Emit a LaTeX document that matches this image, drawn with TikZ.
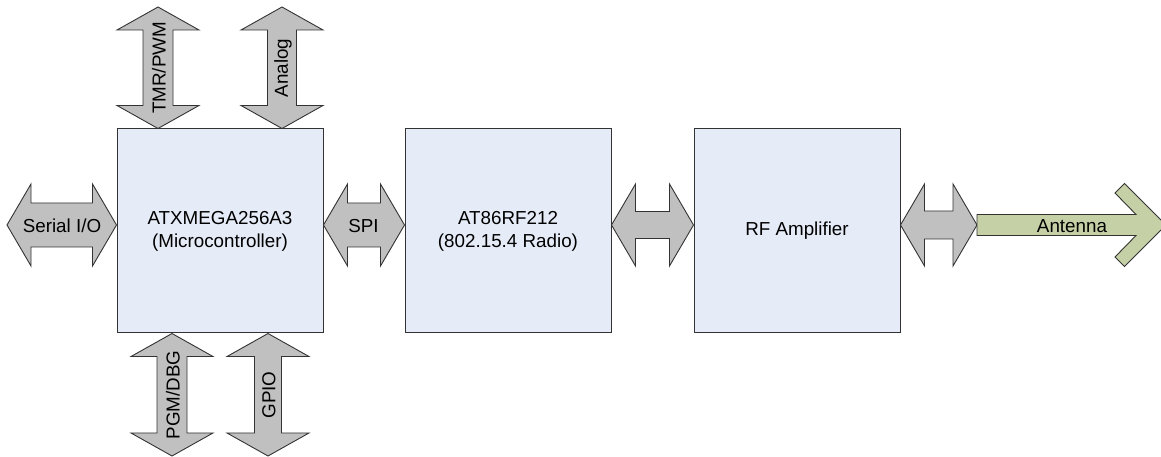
\documentclass[tikz,border=0pt]{standalone}
\usepackage{fontspec}
\setmainfont{Liberation Sans}
\usetikzlibrary{positioning,calc}

\definecolor{boxblue}{RGB}{230,236,247}
\definecolor{busgray}{RGB}{192,192,192}
\definecolor{antgreen}{RGB}{197,208,166}

% horizontal double arrow: left end, right end, half shaft width
\newcommand{\hbus}[3]{%
  \draw[bus] let \p1=#1, \p2=#2 in
    (\x1,\y1) -- (\x1+24pt,\y1+41pt) -- (\x1+24pt,\y1+#3pt) -- (\x2-24pt,\y1+#3pt)
    -- (\x2-24pt,\y1+41pt) -- (\x2,\y1) -- (\x2-24pt,\y1-41pt) -- (\x2-24pt,\y1-#3pt)
    -- (\x1+24pt,\y1-#3pt) -- (\x1+24pt,\y1-41pt) -- cycle;}
% vertical double arrow: top end, bottom end, half shaft width
\newcommand{\vbus}[3]{%
  \draw[bus] let \p1=#1, \p2=#2 in
    (\x1,\y1) -- (\x1+41pt,\y1-23pt) -- (\x1+#3pt,\y1-23pt) -- (\x1+#3pt,\y2+23pt)
    -- (\x1+41pt,\y2+23pt) -- (\x1,\y2) -- (\x1-41pt,\y2+23pt) -- (\x1-#3pt,\y2+23pt)
    -- (\x1-#3pt,\y1-23pt) -- (\x1-41pt,\y1-23pt) -- cycle;}

\begin{document}
\begin{tikzpicture}[x=1pt, y=1pt, font=\fontsize{18.8}{23}\selectfont]
% Define block styles
\tikzstyle{block} = [rectangle, draw=black!80, line width=1pt, fill=boxblue,
    minimum width=206pt, minimum height=204pt, align=center, inner sep=0pt]
\tikzstyle{bus} = [draw=black!80, line width=0.9pt, fill=busgray]
\tikzstyle{antenna} = [draw=black!80, line width=0.9pt, fill=antgreen]
\tikzstyle{lbl} = [inner sep=0pt]

\useasboundingbox (0,0) rectangle (1161,457);

    % Place nodes
    \node [block] (mcu) at (220,226) {ATXMEGA256A3\\(Microcontroller)};
    \node [block, right=81pt of mcu] (radio) {AT86RF212\\(802.15.4 Radio)};
    \node [block, right=82pt of radio] (rfamp) {RF Amplifier};
    \coordinate (serend) at (7,232);
    \coordinate (tmrend) at (158,450);
    \coordinate (anaend) at (282,450);
    \coordinate (pgmend) at (172,1);
    \coordinate (gpioend) at (268,1);
    \coordinate (antstart) at (977,232);
    % Draw edges
    \hbus{(serend)}{(mcu.west)}{22}
    \hbus{([yshift=6pt]mcu.east)}{(radio.west)}{22}
    \hbus{([yshift=6pt]radio.east)}{(rfamp.west)}{13.5}
    \hbus{([yshift=6pt]rfamp.east)}{(antstart)}{14}
    \vbus{(tmrend)}{(mcu.north)}{15}
    \vbus{(anaend)}{(mcu.north)}{14.5}
    \vbus{([xshift=-48pt]mcu.south)}{(pgmend)}{15}
    \vbus{([xshift=48pt]mcu.south)}{(gpioend)}{13.5}
    \draw [antenna] (antstart) ++(0,10.5) -- (1136,242.5) -- (1115,264) -- (1124.5,273.5)
        -- (1166,232) -- (1124.5,190.5) -- (1115,200) -- (1136,221.5) -- (977,221.5) -- cycle;
    % Labels
    \node [lbl] (serlbl) at (62,231) {Serial I/O};
    \node [lbl] (spilbl) at (363.5,231) {SPI};
    \node [lbl] (antlbl) at (1072,231) {Antenna};
    \node [lbl, rotate=90] (tmrlbl) at (159,389) {TMR/PWM};
    \node [lbl, rotate=90] (analbl) at (283,389) {Analog};
    \node [lbl, rotate=90] (pgmlbl) at (173,62) {PGM/DBG};
    \node [lbl, rotate=90] (gpiolbl) at (269,62) {GPIO};
\end{tikzpicture}
\end{document}
